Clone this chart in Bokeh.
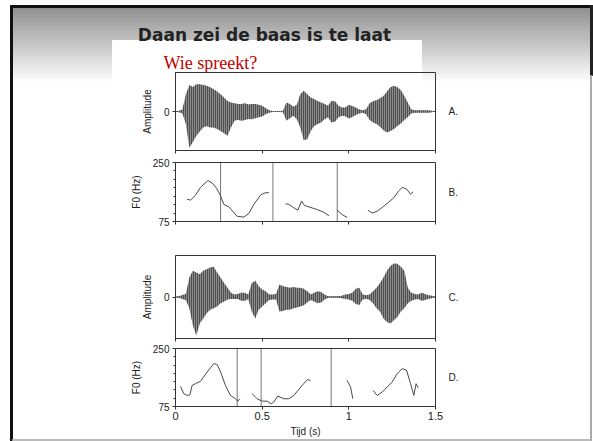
from bokeh.plotting import figure
from bokeh.models import Range1d, FixedTicker, LinearAxis
from bokeh.core.properties import value
from bokeh.embed import file_html
from bokeh.resources import INLINE

# ---------------- data ----------------
slide_title = "Daan zei de baas is te laat"
question = "Wie spreekt?"
x_ticks = [0, 0.5, 1.0, 1.5]
x_tick_labels = {0: "0", 0.5: "0.5", 1.0: "1", 1.5: "1.5"}
f0_ticks = [75, 250]
f0_minor = [100, 125, 150, 175, 200, 225]
amp_ticks = [0]
panel_tags = ["A.", "B.", "C.", "D."]

t_env = [0.00, 0.02, 0.04, 0.06, 0.08, 0.10, 0.12, 0.14, 0.16, 0.18,
         0.20, 0.22, 0.24, 0.26, 0.28, 0.30, 0.32, 0.34, 0.36, 0.38,
         0.40, 0.42, 0.44, 0.46, 0.48, 0.50, 0.52, 0.54, 0.56, 0.58,
         0.60, 0.62, 0.64, 0.66, 0.68, 0.70, 0.72, 0.74, 0.76, 0.78,
         0.80, 0.82, 0.84, 0.86, 0.88, 0.90, 0.92, 0.94, 0.96, 0.98,
         1.00, 1.02, 1.04, 1.06, 1.08, 1.10, 1.12, 1.14, 1.16, 1.18,
         1.20, 1.22, 1.24, 1.26, 1.28, 1.30, 1.32, 1.34, 1.36, 1.38,
         1.40, 1.42, 1.44, 1.46, 1.48, 1.50]

a_upper = [0.00, 0.02, 0.05, 0.44, 0.68, 0.63, 0.70, 0.70, 0.68, 0.66,
           0.62, 0.57, 0.51, 0.44, 0.36, 0.27, 0.23, 0.21, 0.19, 0.19,
           0.21, 0.18, 0.19, 0.19, 0.17, 0.15, 0.09, 0.03, 0.01, 0.01,
           0.01, 0.02, 0.23, 0.19, 0.12, 0.17, 0.44, 0.53, 0.44, 0.36,
           0.32, 0.27, 0.23, 0.19, 0.15, 0.27, 0.26, 0.15, 0.10, 0.10,
           0.17, 0.14, 0.10, 0.05, 0.03, 0.06, 0.21, 0.26, 0.29, 0.34,
           0.40, 0.51, 0.62, 0.66, 0.62, 0.55, 0.40, 0.23, 0.06, 0.03,
           0.03, 0.03, 0.03, 0.03, 0.02, 0.00]
a_lower = [0.00, -0.02, -0.05, -0.32, -0.92, -0.79, -0.62, -0.51, -0.41, -0.37,
           -0.41, -0.41, -0.45, -0.50, -0.56, -0.62, -0.41, -0.24, -0.21, -0.24,
           -0.22, -0.19, -0.20, -0.17, -0.15, -0.13, -0.07, -0.03, -0.01, -0.01,
           -0.01, -0.02, -0.24, -0.17, -0.11, -0.20, -0.41, -0.74, -0.71, -0.50,
           -0.37, -0.32, -0.28, -0.20, -0.15, -0.28, -0.26, -0.15, -0.11, -0.12,
           -0.18, -0.14, -0.09, -0.05, -0.03, -0.07, -0.22, -0.28, -0.32, -0.39,
           -0.48, -0.54, -0.50, -0.45, -0.37, -0.31, -0.22, -0.14, -0.05, -0.03,
           -0.03, -0.03, -0.03, -0.03, -0.02, 0.00]

c_upper = [0.00, 0.02, 0.05, 0.08, 0.47, 0.63, 0.59, 0.55, 0.63, 0.67,
           0.71, 0.73, 0.59, 0.47, 0.34, 0.22, 0.10, 0.06, 0.07, 0.10,
           0.10, 0.06, 0.34, 0.39, 0.26, 0.18, 0.14, 0.06, 0.06, 0.07,
           0.30, 0.26, 0.24, 0.22, 0.24, 0.22, 0.22, 0.20, 0.14, 0.06,
           0.10, 0.14, 0.12, 0.06, 0.02, 0.01, 0.01, 0.02, 0.03, 0.06,
           0.07, 0.10, 0.20, 0.22, 0.06, 0.04, 0.06, 0.14, 0.22, 0.34,
           0.47, 0.63, 0.75, 0.81, 0.80, 0.73, 0.63, 0.22, 0.10, 0.07,
           0.06, 0.10, 0.07, 0.04, 0.03, 0.00]
c_lower = [0.00, -0.02, -0.05, -0.08, -0.27, -0.68, -0.93, -0.64, -0.52, -0.39,
           -0.31, -0.27, -0.23, -0.15, -0.11, -0.06, -0.05, -0.05, -0.05, -0.09,
           -0.09, -0.05, -0.35, -0.52, -0.31, -0.23, -0.15, -0.07, -0.06, -0.06,
           -0.35, -0.34, -0.31, -0.31, -0.27, -0.25, -0.23, -0.20, -0.13, -0.07,
           -0.11, -0.15, -0.13, -0.06, -0.02, -0.01, -0.01, -0.02, -0.03, -0.05,
           -0.06, -0.09, -0.17, -0.19, -0.06, -0.04, -0.07, -0.15, -0.27, -0.35,
           -0.52, -0.60, -0.64, -0.56, -0.48, -0.35, -0.27, -0.15, -0.09, -0.06,
           -0.05, -0.09, -0.07, -0.04, -0.03, 0.00]

b_t = [
    [0.067, 0.087, 0.115, 0.144, 0.187, 0.212, 0.240, 0.260, 0.279, 0.308,
     0.356, 0.394, 0.423, 0.452, 0.490, 0.510, 0.538],
    [0.635, 0.654, 0.683, 0.706, 0.727, 0.744, 0.769, 0.817, 0.856, 0.885],
    [0.933, 0.962, 0.990],
    [1.110, 1.135, 1.163, 1.202, 1.231, 1.260, 1.288, 1.308, 1.333, 1.356, 1.371],
]
b_f0 = [
    [140.8, 138.7, 152.9, 176.2, 196.4, 189.3, 171.1, 150.9, 125.6, 118.5,
     90.2, 88.2, 98.3, 125.6, 152.9, 159.0, 161.0],
    [127.6, 125.6, 115.5, 108.4, 135.7, 122.5, 118.5, 110.4, 102.3, 92.2],
    [108.4, 95.2, 87.1],
    [108.4, 100.3, 105.3, 120.5, 132.7, 145.8, 166.0, 176.2, 171.1, 155.9, 163.0],
]
b_bounds = [0.26, 0.562, 0.933]

d_t = [
    [0.029, 0.048, 0.067, 0.083, 0.096, 0.115, 0.144, 0.183, 0.221, 0.240,
     0.260, 0.288, 0.317, 0.346, 0.360, 0.371],
    [0.442, 0.471, 0.500, 0.529, 0.552, 0.567, 0.590, 0.625, 0.654, 0.683,
     0.731, 0.760, 0.779],
    [0.990, 1.010, 1.023],
    [1.140, 1.163, 1.192, 1.221, 1.250, 1.279, 1.308, 1.333, 1.356, 1.375,
     1.388, 1.400],
]
d_f0 = [
    [135.7, 113.4, 108.4, 110.4, 138.7, 143.8, 150.9, 179.2, 204.5, 201.5,
     179.2, 138.7, 108.4, 98.3, 91.2, 98.3],
    [113.4, 98.3, 91.2, 91.2, 83.1, 88.2, 106.4, 98.3, 98.3, 108.4,
     138.7, 155.9, 153.9],
    [153.9, 133.7, 98.3],
    [123.6, 108.4, 118.5, 133.7, 148.8, 174.1, 189.3, 184.3, 143.8, 108.4,
     143.8, 131.6],
]
d_bounds = [0.356, 0.494, 0.898]

# ---------------- layout (pixel positions on the canvas) ----------------
CW, CH = 593, 441
BOX_X = (175, 435)                       # time axis 0 .. 1.5
BOX_Y = {"A": (150, 72), "B": (221, 162), "C": (338, 255), "D": (406, 348)}  # (bottom, top)
FONT = "Liberation Sans"
INK = "#222222"
LINE = "#333333"


def x_range_for(v0, v1, p0, p1):
    s = (v1 - v0) / (p1 - p0)
    return Range1d(start=v0 - p0 * s, end=v1 + (CW - p1) * s)


def y_range_for(vb, vt, pb, pt):
    s = (vt - vb) / (pb - pt)
    return Range1d(start=vb - (CH - pb) * s, end=vt + pt * s)


p = figure(width=CW, height=CH, x_range=Range1d(0, CW), y_range=Range1d(CH, 0),
           min_border=0, x_axis_location=None, y_axis_location=None,
           output_backend="svg", toolbar_location=None, tools="")
p.grid.visible = False
p.outline_line_color = None
p.background_fill_color = "white"
p.border_fill_color = "white"

p.extra_x_ranges = {"t": x_range_for(0, 1.5, BOX_X[0], BOX_X[1])}
p.extra_y_ranges = {
    "yA": y_range_for(-1, 1, *BOX_Y["A"]),
    "yB": y_range_for(75, 250, *BOX_Y["B"]),
    "yC": y_range_for(-1, 1, *BOX_Y["C"]),
    "yD": y_range_for(75, 250, *BOX_Y["D"]),
}

# ---------------- slide background ----------------
g_top, g_bot = 7, 80
rows = list(range(g_top, g_bot))
grad = []
for r in rows:
    g = int(round(108 + (r - g_top) / (g_bot - g_top) * 142))
    g = min(g, 255)
    grad.append("#%02x%02x%02x" % (g, g, g))
p.quad(left=12, right=590, top=rows, bottom=[r + 1 for r in rows], fill_color=grad, line_color=None)
p.quad(left=[112], right=[421], top=[40], bottom=[g_bot], color="white")
p.quad(left=[10], right=[592], top=[5], bottom=[7], color="#111111")
p.quad(left=[10], right=[12], top=[5], bottom=[CH], color="#111111")
p.quad(left=[590], right=[592], top=[5], bottom=[75], color="#222222")
p.quad(left=[590], right=[591], top=[75], bottom=[CH], color="#aaaaaa")
p.quad(left=[12], right=[590], top=[439], bottom=[440], color="#bbbbbb")

p.text(x=[264], y=[34], text=[slide_title], text_font=value("DejaVu Sans"),
       text_font_style="bold", text_font_size="17px", text_align="center",
       text_baseline="alphabetic", text_color="#222222")
p.text(x=[163], y=[62], text=[question], text_font=value("Liberation Serif"),
       text_font_size="18px", text_align="left", text_baseline="alphabetic",
       text_color="#c00000")


# ---------------- panels ----------------
def style_axis(ax):
    ax.axis_line_color = LINE
    ax.major_tick_line_color = LINE
    ax.minor_tick_line_color = LINE
    ax.major_tick_out = 3
    ax.major_tick_in = 0
    ax.minor_tick_out = 2
    ax.minor_tick_in = 0
    ax.major_label_text_font = FONT
    ax.major_label_text_font_size = "10px"
    ax.major_label_text_color = INK
    ax.major_label_standoff = 3
    ax.axis_label_text_font = FONT
    ax.axis_label_text_font_style = "normal"
    ax.axis_label_text_font_size = "10px"
    ax.axis_label_text_color = INK
    ax.axis_label_standoff = 8


def panel(yname, y0, y1, yticker, ylabel, tag, bottom_labels):
    p.quad(left=[0], right=[1.5], bottom=[y0], top=[y1], fill_color=None,
           line_color=LINE, line_width=1, x_range_name="t", y_range_name=yname)
    yax = LinearAxis(x_range_name="t", y_range_name=yname, fixed_location=0,
                     bounds=(y0, y1), ticker=yticker, axis_label=ylabel)
    style_axis(yax)
    p.add_layout(yax, "left")
    xax = LinearAxis(x_range_name="t", y_range_name=yname, fixed_location=y0,
                     bounds=(0, 1.5), ticker=FixedTicker(ticks=x_ticks))
    style_axis(xax)
    if bottom_labels:
        xax.major_label_overrides = x_tick_labels
        xax.major_label_text_font_size = "11px"
        xax.major_label_standoff = 2
        xax.axis_label = "Tijd (s)"
        xax.axis_label_standoff = 3
    else:
        xax.major_label_text_color = None
    p.add_layout(xax, "below")
    p.text(x=[1.5], y=[(y0 + y1) / 2], text=[tag], x_offset=13,
           text_font=value(FONT), text_font_size="10px", text_color=INK,
           text_align="left", text_baseline="middle",
           x_range_name="t", y_range_name=yname)


def wave(yname, upper, lower):
    p.line(x=[0, 1.5], y=[0, 0], line_color="#222222", line_width=1,
           x_range_name="t", y_range_name=yname)
    p.varea(x=t_env, y1=lower, y2=upper, fill_color="#8c8c8c",
            hatch_pattern="vertical_line", hatch_color="#111111",
            hatch_scale=2.0, hatch_weight=1.0,
            x_range_name="t", y_range_name=yname)


def f0(yname, ts, fs, bounds):
    p.segment(x0=bounds, x1=bounds, y0=75, y1=250, line_color="#777777", line_width=1,
              x_range_name="t", y_range_name=yname)
    p.multi_line(xs=ts, ys=fs, line_color="#4a4a4a", line_width=1,
                 x_range_name="t", y_range_name=yname)


wave("yA", a_upper, a_lower)
panel("yA", -1, 1, FixedTicker(ticks=amp_ticks), "Amplitude", panel_tags[0], False)

f0("yB", b_t, b_f0, b_bounds)
panel("yB", 75, 250, FixedTicker(ticks=f0_ticks, minor_ticks=f0_minor), "F0 (Hz)", panel_tags[1], False)

wave("yC", c_upper, c_lower)
panel("yC", -1, 1, FixedTicker(ticks=amp_ticks), "Amplitude", panel_tags[2], False)

f0("yD", d_t, d_f0, d_bounds)
panel("yD", 75, 250, FixedTicker(ticks=f0_ticks, minor_ticks=f0_minor), "F0 (Hz)", panel_tags[3], True)

open("out.html", "w").write(file_html(p, INLINE))
